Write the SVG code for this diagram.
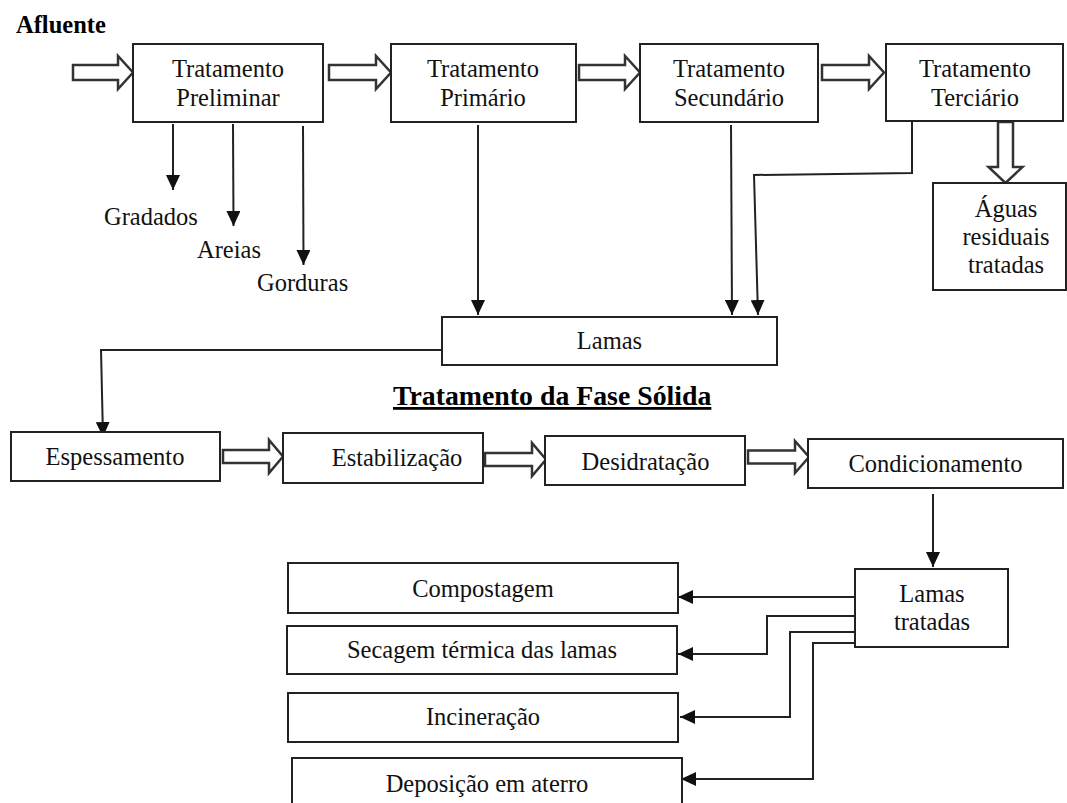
<svg xmlns="http://www.w3.org/2000/svg" width="1067" height="803" viewBox="0 0 1067 803">
<defs>
<marker id="ah" viewBox="0 0 15 14" refX="15" refY="7" markerWidth="15" markerHeight="14" orient="auto" markerUnits="userSpaceOnUse">
<path d="M0,0 L15,7 L0,14 Z" fill="#111"/>
</marker>
<style>
.box{fill:#fff;stroke:#222;stroke-width:2}
.t{font-family:"Liberation Serif","Times New Roman",serif;font-size:24.5px;fill:#111;text-anchor:middle}
.lbl{font-family:"Liberation Serif","Times New Roman",serif;font-size:24.5px;fill:#111}
.b{font-family:"Liberation Serif","Times New Roman",serif;font-weight:bold;fill:#000}
.ln{fill:none;stroke:#222;stroke-width:2}
.hol{fill:#fff;stroke:#333;stroke-width:2.5;stroke-linejoin:miter}
</style>
</defs>
<rect width="1067" height="803" fill="#fff"/>

<text class="b" x="16" y="33" font-size="24.5">Afluente</text>
<text class="b" x="393" y="405" font-size="27.8" text-decoration="underline">Tratamento da Fase Sólida</text>

<g id="connectors">
<path class="hol" d="M73,65 L118,65 L118,56 L133,72.5 L118,89 L118,80 L73,80 Z"/>
<path class="hol" d="M329,65 L376,65 L376,56 L391,72.5 L376,89 L376,80 L329,80 Z"/>
<path class="hol" d="M579,65 L625,65 L625,56 L640,72.5 L625,89 L625,80 L579,80 Z"/>
<path class="hol" d="M822,65 L869,65 L869,56 L884,72.5 L869,89 L869,80 L822,80 Z"/>
<path class="hol" d="M998,122 L998,167 L988.5,167 L1005.5,183 L1022.5,167 L1013,167 L1013,122 Z"/>
<path class="hol" d="M223,450 L269,450 L269,440 L283,456.5 L269,473 L269,463 L223,463 Z"/>
<path class="hol" d="M485,453 L532,453 L532,443 L546,459.5 L532,476 L532,466 L485,466 Z"/>
<path class="hol" d="M748,450.5 L795,450.5 L795,441 L809,457 L795,473 L795,463.5 L748,463.5 Z"/>

<line class="ln" x1="173" y1="124" x2="173" y2="190" marker-end="url(#ah)"/>
<line class="ln" x1="233" y1="124" x2="233.5" y2="226" marker-end="url(#ah)"/>
<line class="ln" x1="303" y1="126" x2="303.5" y2="265" marker-end="url(#ah)"/>
<line class="ln" x1="478" y1="125" x2="478" y2="315" marker-end="url(#ah)"/>
<line class="ln" x1="731" y1="125" x2="732" y2="315" marker-end="url(#ah)"/>
<polyline class="ln" points="912,122 912,173 754,175 758,315" marker-end="url(#ah)"/>
<polyline class="ln" points="442,350 101,350 103,437" marker-end="url(#ah)"/>
<line class="ln" x1="933" y1="494" x2="933" y2="567" marker-end="url(#ah)"/>
<polyline class="ln" points="855,597 678,597" marker-end="url(#ah)"/>
<polyline class="ln" points="855,616 767,616 767,654 678,654" marker-end="url(#ah)"/>
<polyline class="ln" points="855,632 790,632 790,717 680,717" marker-end="url(#ah)"/>
<polyline class="ln" points="855,643 813,643 813,779 681,779" marker-end="url(#ah)"/>
</g>

<g id="n-preliminar">
<rect class="box" x="133" y="44" width="190" height="78"/>
<text class="t" x="228" y="77">Tratamento</text>
<text class="t" x="228" y="106">Preliminar</text>
</g>
<g id="n-primario">
<rect class="box" x="391" y="44" width="185" height="78"/>
<text class="t" x="483" y="77">Tratamento</text>
<text class="t" x="483" y="106">Primário</text>
</g>
<g id="n-secundario">
<rect class="box" x="640" y="44" width="178" height="78"/>
<text class="t" x="729" y="77">Tratamento</text>
<text class="t" x="729" y="106">Secundário</text>
</g>
<g id="n-terciario">
<rect class="box" x="886" y="44" width="177" height="77"/>
<text class="t" x="975" y="77">Tratamento</text>
<text class="t" x="975" y="106">Terciário</text>
</g>
<g id="n-aguas">
<rect class="box" x="933" y="183" width="133" height="107"/>
<text class="t" x="1006" y="217">Águas</text>
<text class="t" x="1006" y="245">residuais</text>
<text class="t" x="1006" y="273">tratadas</text>
</g>
<g id="n-gradados"><text class="lbl" x="104" y="225">Gradados</text></g>
<g id="n-areias"><text class="lbl" x="197" y="258">Areias</text></g>
<g id="n-gorduras"><text class="lbl" x="257" y="291">Gorduras</text></g>
<g id="n-lamas">
<rect class="box" x="442" y="317" width="335" height="48"/>
<text class="t" x="609.5" y="349">Lamas</text>
</g>
<g id="n-espessamento">
<rect class="box" x="11" y="432" width="209" height="49"/>
<text class="t" x="115" y="465">Espessamento</text>
</g>
<g id="n-estabilizacao">
<rect class="box" x="283" y="433" width="200" height="50"/>
<text class="t" x="397" y="466">Estabilização</text>
</g>
<g id="n-desidratacao">
<rect class="box" x="545" y="436" width="200" height="49"/>
<text class="t" x="645.5" y="470">Desidratação</text>
</g>
<g id="n-condicionamento">
<rect class="box" x="808" y="439" width="255" height="49"/>
<text class="t" x="935.5" y="472">Condicionamento</text>
</g>
<g id="n-lamas-tratadas">
<rect class="box" x="855" y="569" width="153" height="78"/>
<text class="t" x="932" y="602">Lamas</text>
<text class="t" x="932" y="630">tratadas</text>
</g>
<g id="n-compostagem">
<rect class="box" x="288" y="563" width="390" height="50"/>
<text class="t" x="483" y="597">Compostagem</text>
</g>
<g id="n-secagem">
<rect class="box" x="287" y="626" width="390" height="48"/>
<text class="t" x="482" y="658">Secagem térmica das lamas</text>
</g>
<g id="n-incineracao">
<rect class="box" x="288" y="693" width="390" height="49"/>
<text class="t" x="483" y="725">Incineração</text>
</g>
<g id="n-deposicao">
<rect class="box" x="292" y="758" width="390" height="60"/>
<text class="t" x="487" y="792">Deposição em aterro</text>
</g>
</svg>
